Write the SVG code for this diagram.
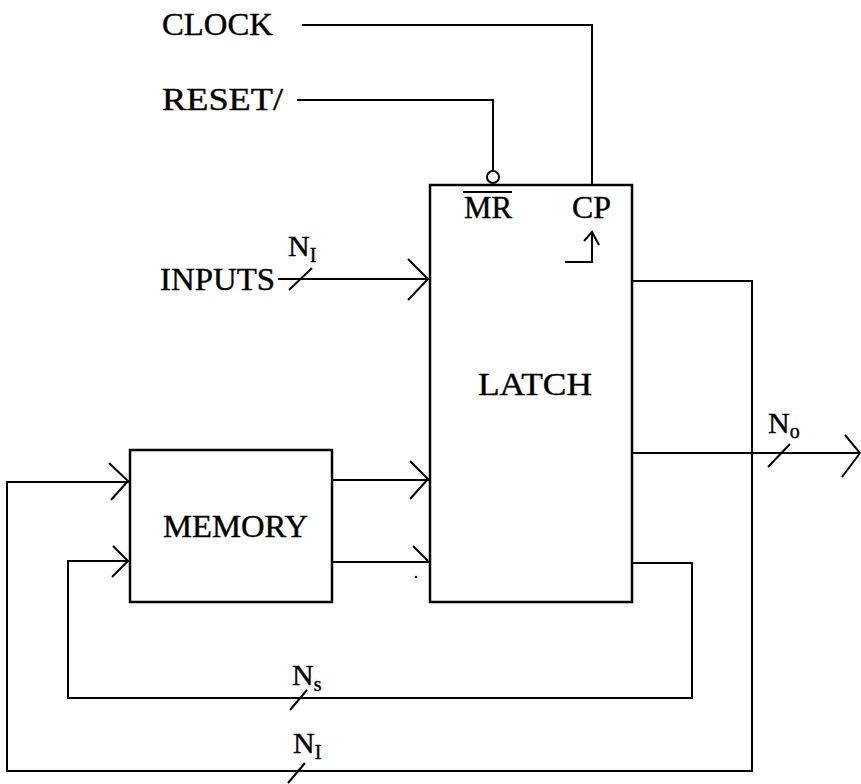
<svg xmlns="http://www.w3.org/2000/svg" width="861" height="784" viewBox="0 0 861 784">
<style>
.t{font-family:"Liberation Serif","Times New Roman",serif;font-size:32px;fill:#000;stroke:#000;stroke-width:0.4}
.n{font-size:30px}
.s{font-size:20px}
.ln{fill:none;stroke:#000;stroke-width:2;stroke-linejoin:miter}
.bx{fill:none;stroke:#000;stroke-width:2.5}
</style>
<rect width="861" height="784" fill="#fff"/>

<g id="clock-label"><text class="t" x="162" y="35" textLength="111" lengthAdjust="spacingAndGlyphs">CLOCK</text></g>
<g id="reset-label"><text class="t" x="162" y="110" textLength="121" lengthAdjust="spacingAndGlyphs">RESET/</text></g>
<g id="inputs-label"><text class="t" x="160" y="290" textLength="115" lengthAdjust="spacingAndGlyphs">INPUTS</text></g>

<g id="latch">
<rect class="bx" x="430" y="185" width="202" height="417"/>
<text class="t" x="478" y="395" textLength="114" lengthAdjust="spacingAndGlyphs">LATCH</text>
<text class="t" x="464" y="218" textLength="48" lengthAdjust="spacingAndGlyphs">MR</text>
<line class="ln" x1="463" y1="192" x2="512" y2="192"/>
<text class="t" x="572" y="218" textLength="39" lengthAdjust="spacingAndGlyphs">CP</text>
<path class="ln" d="M565,262 H592 V233 M584,241 L592,232 L599,245"/>
</g>

<g id="memory">
<rect class="bx" x="130" y="450" width="202" height="152"/>
<text class="t" x="163" y="537" textLength="145" lengthAdjust="spacingAndGlyphs">MEMORY</text>
</g>

<g id="connectors">
<path class="ln" d="M302,25 H592 V185"/>
<path class="ln" d="M297,100 H493 V171"/>
<circle cx="493" cy="177" r="6" fill="none" stroke="#000" stroke-width="2"/>

<path class="ln" d="M278,279 H430"/>
<path class="ln" d="M408,259 L428,279 L408,300"/>
<path class="ln" d="M289,290 L312,268"/>

<path class="ln" d="M332,480 H430"/>
<path class="ln" d="M410,461 L428,479 L410,499"/>
<path class="ln" d="M332,562 H430"/>
<path class="ln" d="M413,546 L428,561"/>
<circle cx="416" cy="577" r="1.3" fill="#000"/>

<path class="ln" d="M632,453 H860"/>
<path class="ln" d="M845,435 L860,453 L842,477"/>
<path class="ln" d="M768,467 L790,444"/>

<path class="ln" d="M632,281 H752 V771 H7 V482 H130"/>
<path class="ln" d="M109,463 L128,481 L111,500"/>
<path class="ln" d="M288,783 L305,763"/>

<path class="ln" d="M632,563 H692 V698 H68 V561 H130"/>
<path class="ln" d="M113,546 L128,561 L112,577"/>
<path class="ln" d="M290,710 L307,690"/>
</g>

<g id="width-labels">
<text class="t n" x="288" y="256">N<tspan class="s" dy="6">I</tspan></text>
<text class="t n" x="768" y="433">N<tspan class="s" dy="5">o</tspan></text>
<text class="t n" x="292" y="685">N<tspan class="s" dy="6">s</tspan></text>
<text class="t n" x="293" y="753">N<tspan class="s" dy="6">I</tspan></text>
</g>
</svg>
